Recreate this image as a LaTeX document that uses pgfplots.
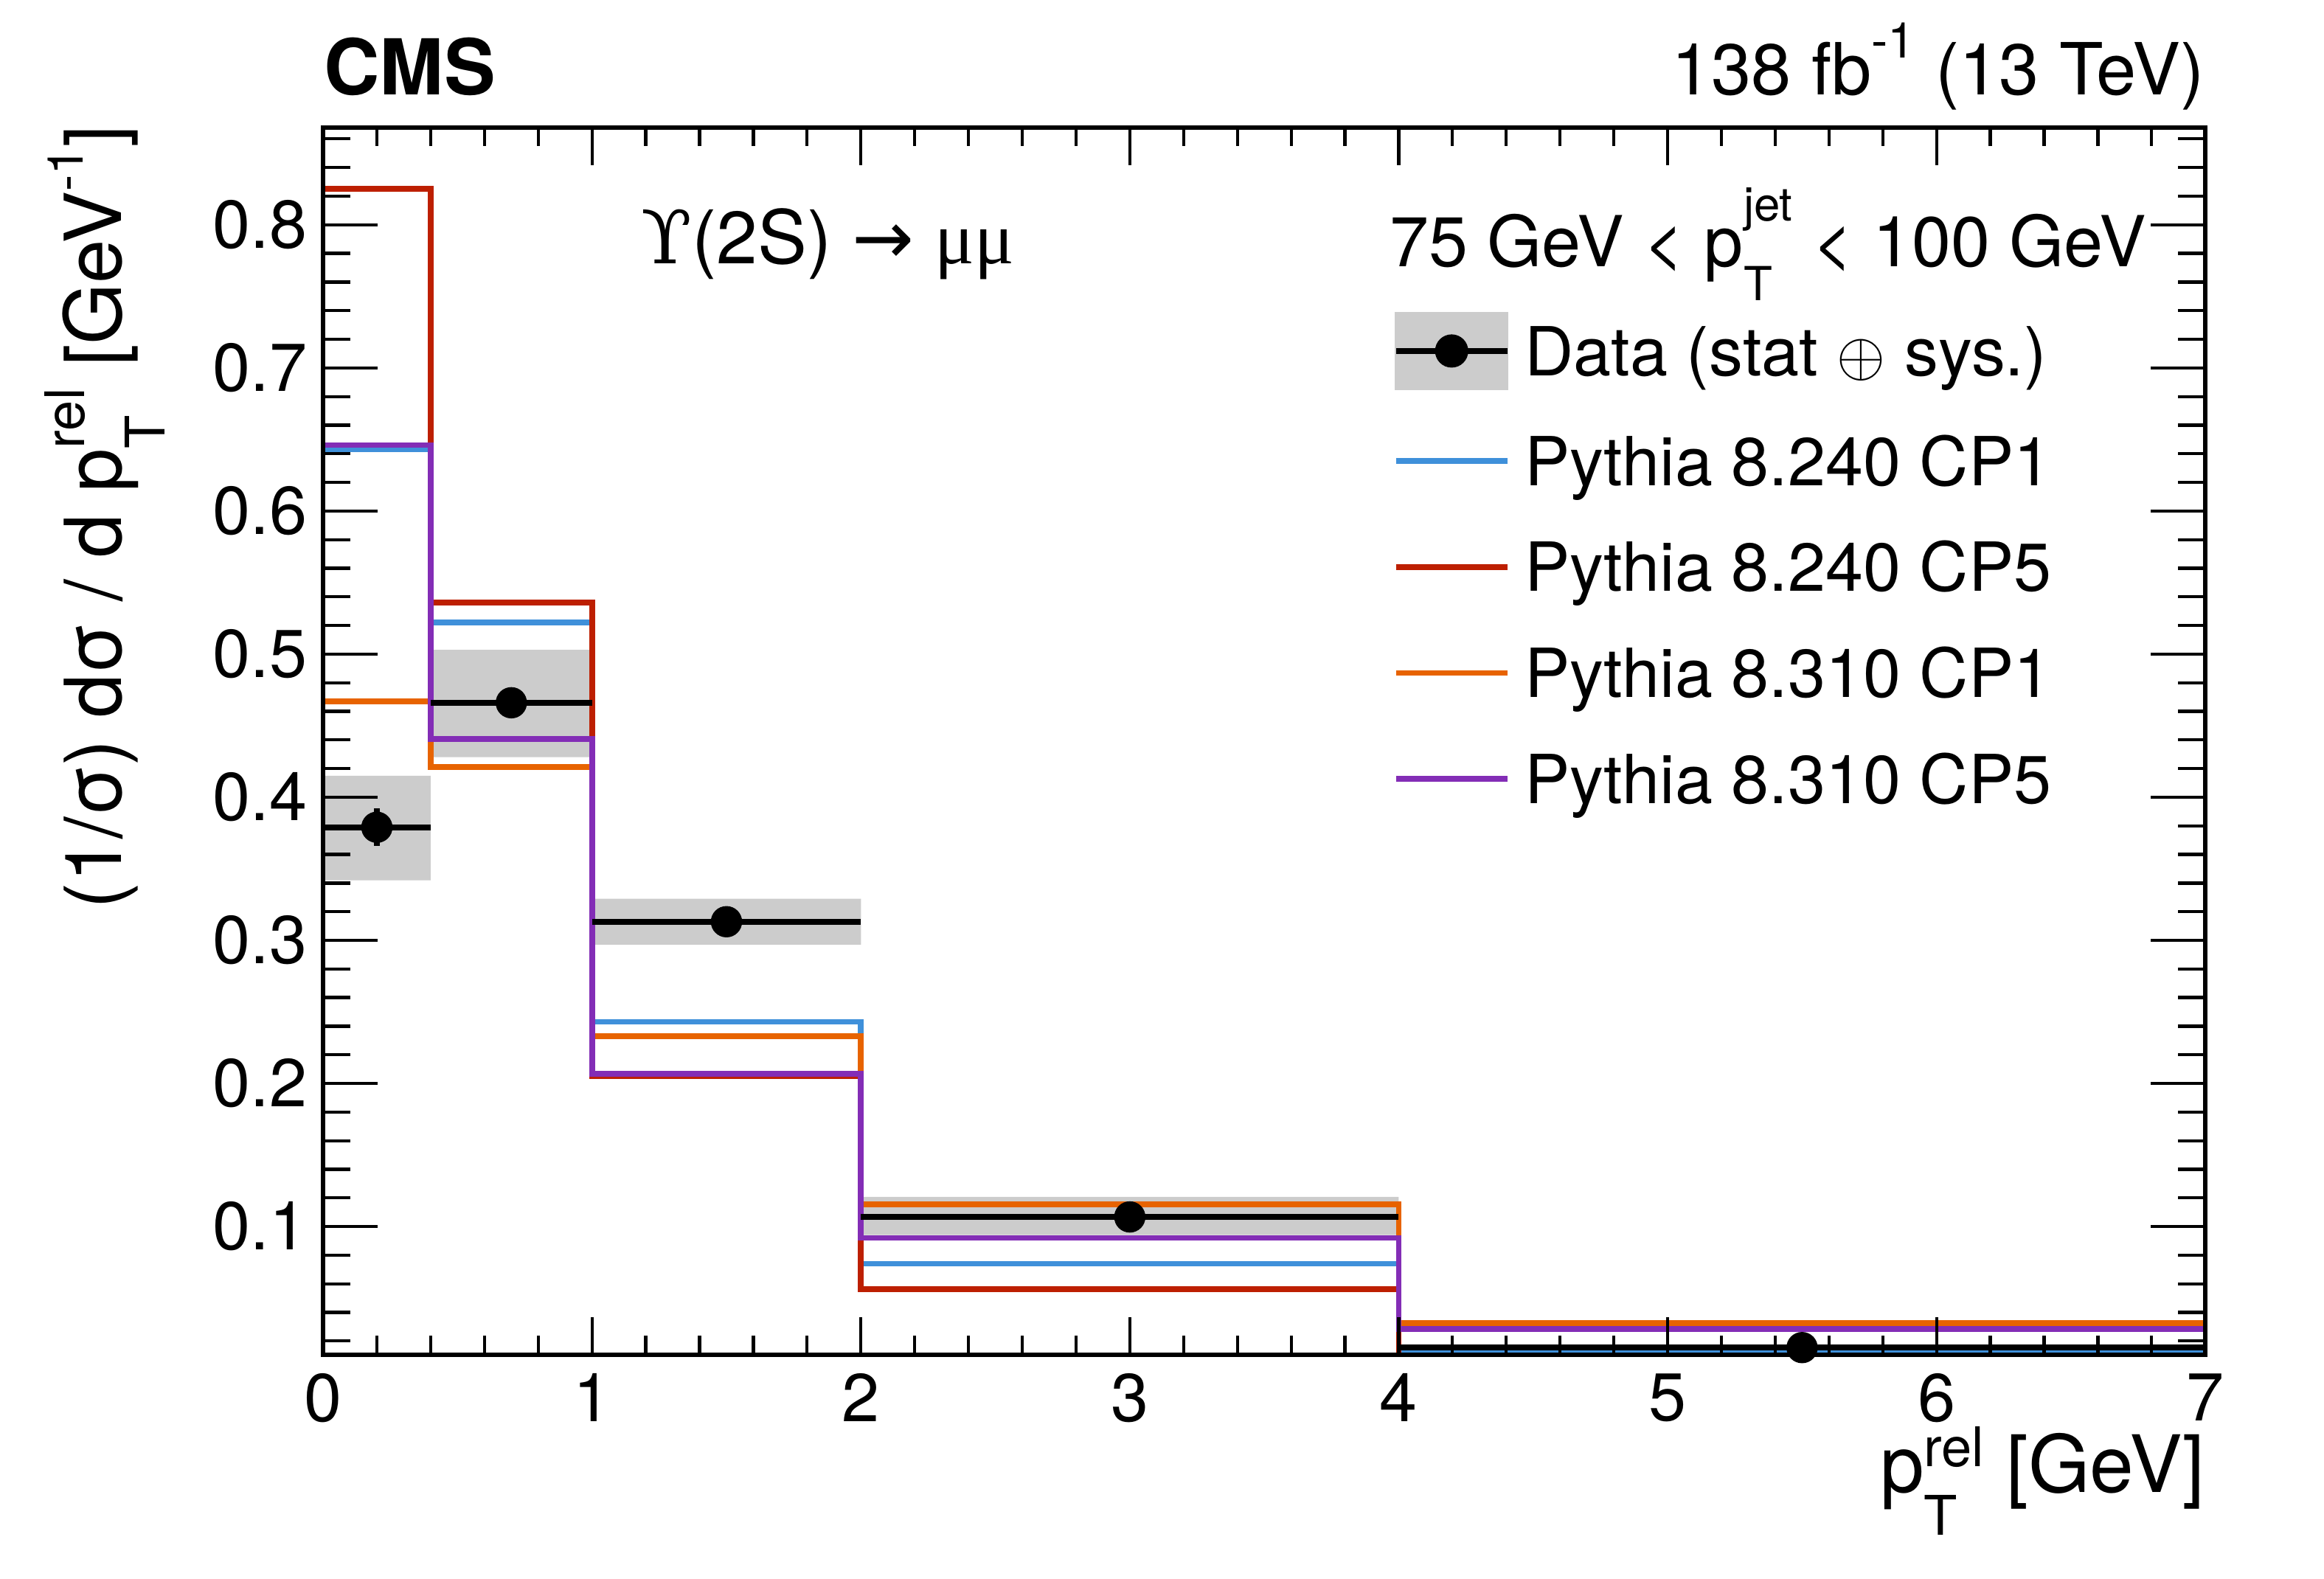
\documentclass[border=0pt]{standalone}
\usepackage{pgfplots}
\pgfplotsset{compat=1.18}
\usepackage{amsmath}
\usepackage{fontspec}
\setmainfont{TeX Gyre Heros}
\newfontfamily\grk{Liberation Serif}
\newfontfamily\ups{DejaVu Serif}
\newfontfamily\symf{DejaVu Sans}
\definecolor{cpblue}{HTML}{3F90DA}
\definecolor{cpred}{HTML}{BD1F01}
\definecolor{cporange}{HTML}{E76300}
\definecolor{cppurple}{HTML}{832DB6}
\definecolor{bandgray}{HTML}{CCCCCC}
\newcommand{\fs}[1]{\fontsize{#1}{#1}\selectfont}
\begin{document}
\begin{tikzpicture}
\pgfplotsset{
  cmsbase/.style={
    scale only axis, width=127mm, height=82.8mm,
    xmin=0, xmax=7, ymin=0.0105, ymax=0.868,
    axis line style={line width=0.85pt},
    tick align=inside,
    tick style={line width=0.6pt, black},
    xticklabel pos=lower, yticklabel pos=left,
    /pgf/number format/assume math mode=true,
    ticklabel style={font=\fs{13}},
    xticklabel style={inner sep=0pt, yshift=-1.2mm},
    yticklabel style={inner sep=0pt, xshift=-1.0mm},
  }
}
% ---------- axis 1: bands, histograms, x ticks
\begin{axis}[cmsbase, axis on top,
  xtick={0,1,2,3,4,5,6,7},
  minor xtick={0.2,0.4,0.6,0.8,1.2,1.4,1.6,1.8,2.2,2.4,2.6,2.8,3.2,3.4,3.6,3.8,4.2,4.4,4.6,4.8,5.2,5.4,5.6,5.8,6.2,6.4,6.6,6.8},
  ytick=\empty, minor ytick={},
  major tick length=2.54mm, minor tick length=1.26mm]
% data uncertainty bands (stat + sys)
\addplot[fill=bandgray, draw=none, forget plot] coordinates {(0,0.342) (0.4,0.342) (0.4,0.415) (0,0.415) (0,0.342)};
\addplot[fill=bandgray, draw=none, forget plot] coordinates {(0.4,0.428) (1,0.428) (1,0.503) (0.4,0.503) (0.4,0.428)};
\addplot[fill=bandgray, draw=none, forget plot] coordinates {(1,0.297) (2,0.297) (2,0.329) (1,0.329) (1,0.297)};
\addplot[fill=bandgray, draw=none, forget plot] coordinates {(2,0.094) (4,0.094) (4,0.1207) (2,0.1207) (2,0.094)};
\addplot[fill=bandgray, draw=none, forget plot] coordinates {(4,0.0135) (7,0.0135) (7,0.0174) (4,0.0174) (4,0.0135)};
% Pythia 8.240 CP1
\addplot[const plot, cpblue, line width=1.1pt, forget plot] coordinates {(0,0.643) (0.4,0.522) (1,0.243) (2,0.074) (4,0.0128) (7,0.0128)};
% Pythia 8.240 CP5
\addplot[const plot, cpred, line width=1.1pt, forget plot] coordinates {(0,0.825) (0.4,0.536) (1,0.2053) (2,0.0564) (4,0.0098) (7,0.0098)};
% Pythia 8.310 CP1
\addplot[const plot, cporange, line width=1.1pt, forget plot] coordinates {(0,0.467) (0.4,0.421) (1,0.233) (2,0.1154) (4,0.0325) (7,0.0325)};
% Pythia 8.310 CP5
\addplot[const plot, cppurple, line width=1.1pt, forget plot] coordinates {(0,0.646) (0.4,0.4406) (1,0.2066) (2,0.092) (4,0.0285) (7,0.0285)};
\end{axis}
% ---------- axis 2: y ticks, data points, legend, labels
\begin{axis}[cmsbase, clip=false,
  xtick=\empty, minor xtick={},
  ytick={0.1,0.2,0.3,0.4,0.5,0.6,0.7,0.8},
  minor ytick={0.02,0.04,0.06,0.08,0.12,0.14,0.16,0.18,0.22,0.24,0.26,0.28,0.32,0.34,0.36,0.38,0.42,0.44,0.46,0.48,0.52,0.54,0.56,0.58,0.62,0.64,0.66,0.68,0.72,0.74,0.76,0.78,0.82,0.84,0.86},
  major tick length=3.68mm, minor tick length=1.84mm,
  yticklabel style={/pgf/number format/.cd, fixed, fixed zerofill, precision=1},
  legend cell align=left,
  legend style={at={(axis description cs:0.5685,0.8495)}, anchor=north west,
    draw=none, fill=none, inner sep=0pt, outer sep=0pt,
    row sep=2.45mm, column sep=1.0mm, font=\fs{13},
    nodes={inner sep=0pt, text height=4.0mm, text depth=0.7mm}},
  ]
\addlegendimage{legend image code/.code={
  \fill[bandgray] (0mm,-2.55mm) rectangle (7.5mm,2.55mm);
  \draw[black,line width=1.1pt] (0mm,0mm) -- (7.5mm,0mm);
  \fill[black] (3.75mm,0mm) circle (1.05mm);}}
\addlegendentry{Data (stat $\oplus$ sys.)}
\addlegendimage{legend image code/.code={\draw[cpblue,line width=1.1pt] (0mm,0mm) -- (7.5mm,0mm);}}
\addlegendentry{Pythia 8.240 CP1}
\addlegendimage{legend image code/.code={\draw[cpred,line width=1.1pt] (0mm,0mm) -- (7.5mm,0mm);}}
\addlegendentry{Pythia 8.240 CP5}
\addlegendimage{legend image code/.code={\draw[cporange,line width=1.1pt] (0mm,0mm) -- (7.5mm,0mm);}}
\addlegendentry{Pythia 8.310 CP1}
\addlegendimage{legend image code/.code={\draw[cppurple,line width=1.1pt] (0mm,0mm) -- (7.5mm,0mm);}}
\addlegendentry{Pythia 8.310 CP5}
% data points
\addplot[black, line width=1.1pt, only marks, mark=*, mark size=2.45pt, forget plot,
  error bars/.cd, x dir=both, x explicit, y dir=both, y explicit, error mark=none,
  error bar style={line width=1.1pt, black}]
  coordinates {
  (0.2,0.379) +- (0.2,0.013)
  (0.7,0.466) +- (0.3,0.006)
  (1.5,0.313) +- (0.5,0.006)
  (3,0.1067) +- (1,0.011)
  (5.5,0.0154) +- (1.5,0.003)
  };
% texts
\node[anchor=base west, inner sep=0pt, font=\fs{14.8}\bfseries] at (axis description cs:0,1.0266) {CMS};
\node[anchor=base east, inner sep=0pt, font=\fs{13.8}] at (axis description cs:1,1.0266) {138 fb\raisebox{2.5mm}{\fs{9.5}-1} (13 TeV)};
\node[anchor=base west, inner sep=0pt, font=\fs{14.2}] at (axis description cs:0.1685,0.889) {{\ups ϒ}(2S) {\symf →} {\grk μμ}};
\node[anchor=base west, inner sep=0pt, font=\fs{13.5}] at (axis description cs:0.5661,0.8865) {75 GeV < p\rlap{\raisebox{-2.3mm}{\fs{9}T}}\raisebox{3.1mm}{\fs{9}jet} < 100 GeV};
\node[anchor=base east, inner sep=0pt, font=\fs{15.2}] at (axis description cs:1,-0.112) {p\rlap{\raisebox{-2.9mm}{\fs{10.5}T}}\raisebox{1.7mm}{\fs{10.5}rel} [GeV]};
\node[rotate=90, anchor=base east, inner sep=0pt, font=\fs{15.1}] at (axis description cs:-0.1071,1.0024) {(1/σ) dσ / d p\rlap{\raisebox{-2.9mm}{\fs{10.5}T}}\raisebox{2.5mm}{\fs{10.5}rel} [GeV\raisebox{2.6mm}{\fs{9.5}-1}]};
\end{axis}
\pgfresetboundingbox
\useasboundingbox (-21.8mm,-15.1mm) rectangle (135mm,91.4mm);
\end{tikzpicture}
\end{document}
